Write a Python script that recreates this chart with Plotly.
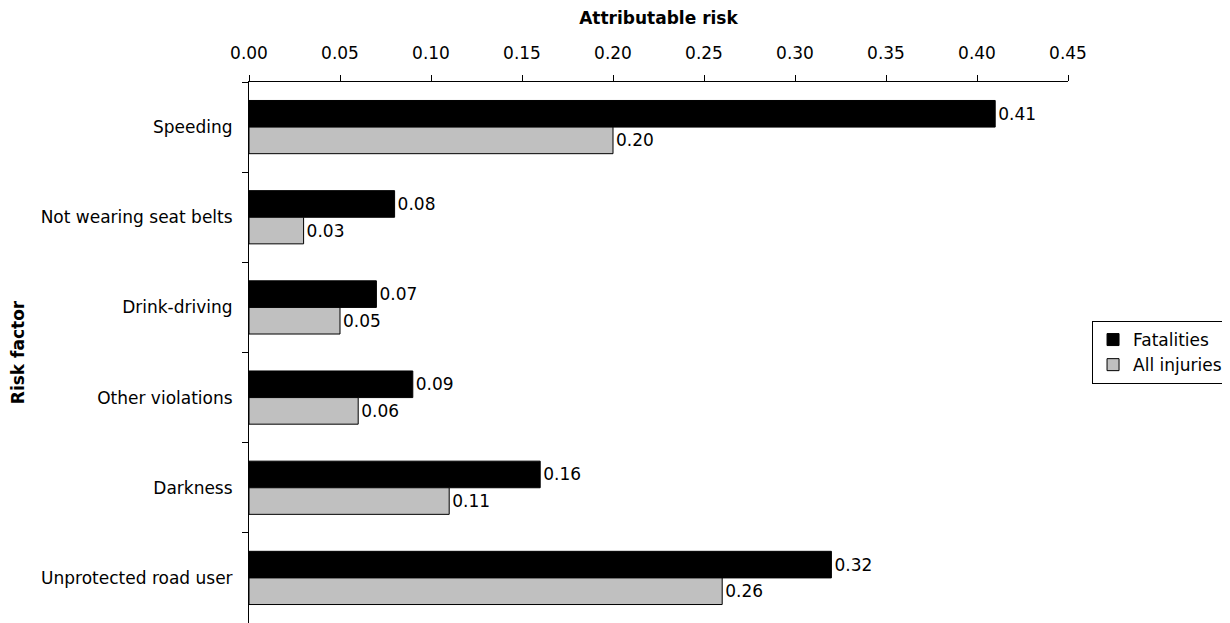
import plotly.graph_objects as go

categories = ["Speeding", "Not wearing seat belts", "Drink-driving", "Other violations", "Darkness", "Unprotected road user"]
fatalities = [0.41, 0.08, 0.07, 0.09, 0.16, 0.32]
all_injuries = [0.20, 0.03, 0.05, 0.06, 0.11, 0.26]
x_ticks = [0.00, 0.05, 0.10, 0.15, 0.20, 0.25, 0.30, 0.35, 0.40, 0.45]

FONT = "DejaVu Sans, Arial, sans-serif"
FS = 17

fig = go.Figure()
fig.add_trace(go.Bar(
    y=categories, x=fatalities, orientation="h", name="Fatalities",
    marker=dict(color="black", line=dict(color="black", width=1)),
    text=[f"{v:.2f}" for v in fatalities], textposition="outside",
    textfont=dict(color="black", size=FS, family=FONT), cliponaxis=False,
))
fig.add_trace(go.Bar(
    y=categories, x=all_injuries, orientation="h", name="All injuries",
    marker=dict(color="#c0c0c0", line=dict(color="black", width=1)),
    text=[f"{v:.2f}" for v in all_injuries], textposition="outside",
    textfont=dict(color="black", size=FS, family=FONT), cliponaxis=False,
))

fig.update_layout(
    width=1222, height=615,
    margin=dict(l=241, r=162, t=74, b=0, autoexpand=False),
    paper_bgcolor="white", plot_bgcolor="white",
    font=dict(family=FONT, size=FS, color="black"),
    barmode="group", bargap=0.41, bargroupgap=0,
    showlegend=True,
    legend=dict(
        x=1.1954, y=0.5, xanchor="right", yanchor="middle",
        bordercolor="black", borderwidth=1, bgcolor="white",
        font=dict(size=FS, family=FONT), tracegroupgap=0,
        itemwidth=30,
    ),
    xaxis=dict(
        side="top", range=[0, 0.45], tickvals=x_ticks,
        ticktext=[f"{v:.2f}" for v in x_ticks],
        showline=True, linecolor="black", linewidth=1,
        ticks="outside", ticklen=6, tickcolor="black",
        ticklabelstandoff=9,
        showgrid=False, zeroline=False,
        title=dict(text="<b>Attributable risk</b>", font=dict(size=FS, family=FONT), standoff=15),
    ),
    yaxis=dict(
        autorange="reversed", type="category",
        showline=True, linecolor="black", linewidth=1,
        ticks="outside", ticklen=6, tickcolor="black", tickson="boundaries",
        ticklabelstandoff=12,
        showgrid=False, zeroline=False,
        title=dict(text="<b>Risk factor</b>", font=dict(size=FS, family=FONT), standoff=12),
    ),
)

fig.write_html("out.html")
